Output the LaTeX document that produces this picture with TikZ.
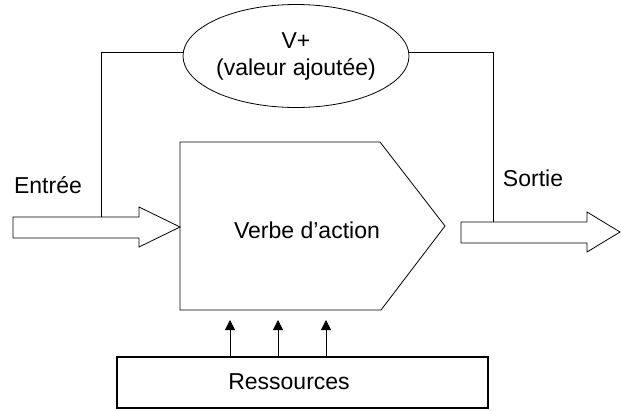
\documentclass[tikz,border=0pt]{standalone}
\usepackage{fontspec}
\setmainfont{Liberation Sans}
\usetikzlibrary{arrows.meta,shapes.geometric}
\begin{document}
\begin{tikzpicture}[x=1pt,y=-1pt,
  every node/.style={font=\fontsize{23}{27}\selectfont},
  outline/.style={draw=black,line width=0.8pt,line join=miter},
  link/.style={draw=black,line width=0.8pt},
  feed/.style={draw=black,line width=0.8pt,-{Triangle[width=10pt,length=10pt]}},
  label/.style={inner sep=0pt,align=center}]
\useasboundingbox (0,0) rectangle (621,410);

% process block (pentagon pointing right)
\coordinate (p1) at (180,142);
\coordinate (p2) at (380,142);
\coordinate (p3) at (445,226);
\coordinate (p4) at (381,310);
\coordinate (p5) at (180,310);
\draw[outline] (p1) -- (p2) -- (p3) -- (p4) -- (p5) -- cycle;
\node[label] (verbe) at (307,230) {Verbe d'action};

% input block arrow
\draw[outline] (13,217) -- (139,217) -- (139,207) -- (180,227)
  -- (139,247) -- (139,238) -- (13,238) -- cycle;
\node[label] (entree) at (48,185) {Entrée};

% output block arrow
\draw[outline] (461,222) -- (587,222) -- (587,212) -- (620,232)
  -- (587,252) -- (587,243) -- (461,243) -- cycle;
\node[label] (sortie) at (533,178) {Sortie};

% added value
\node[draw=black,line width=0.8pt,ellipse,minimum width=208pt,
  minimum height=103pt,inner sep=0pt,align=center] (vplus) at (296,56)
  {V+\\(valeur ajoutée)};
\coordinate (inTap) at (101,217);
\coordinate (outTap) at (493,222);
\draw[link] (inTap) |- (vplus.178);
\draw[link] (outTap) |- (vplus.2);

% resources
\node[draw=black,line width=1.1pt,minimum width=371pt,minimum height=51pt,
  inner sep=0pt] (res) at (302.5,382.5) {};
\node[label] (restext) at (289,382) {Ressources};
\foreach \x/\n in {230/a,278/b,326/c}{
  \coordinate (r\n) at (\x,357);
  \coordinate (t\n) at (\x,320);
  \draw[feed] (r\n) -- (t\n);
}
\end{tikzpicture}
\end{document}
